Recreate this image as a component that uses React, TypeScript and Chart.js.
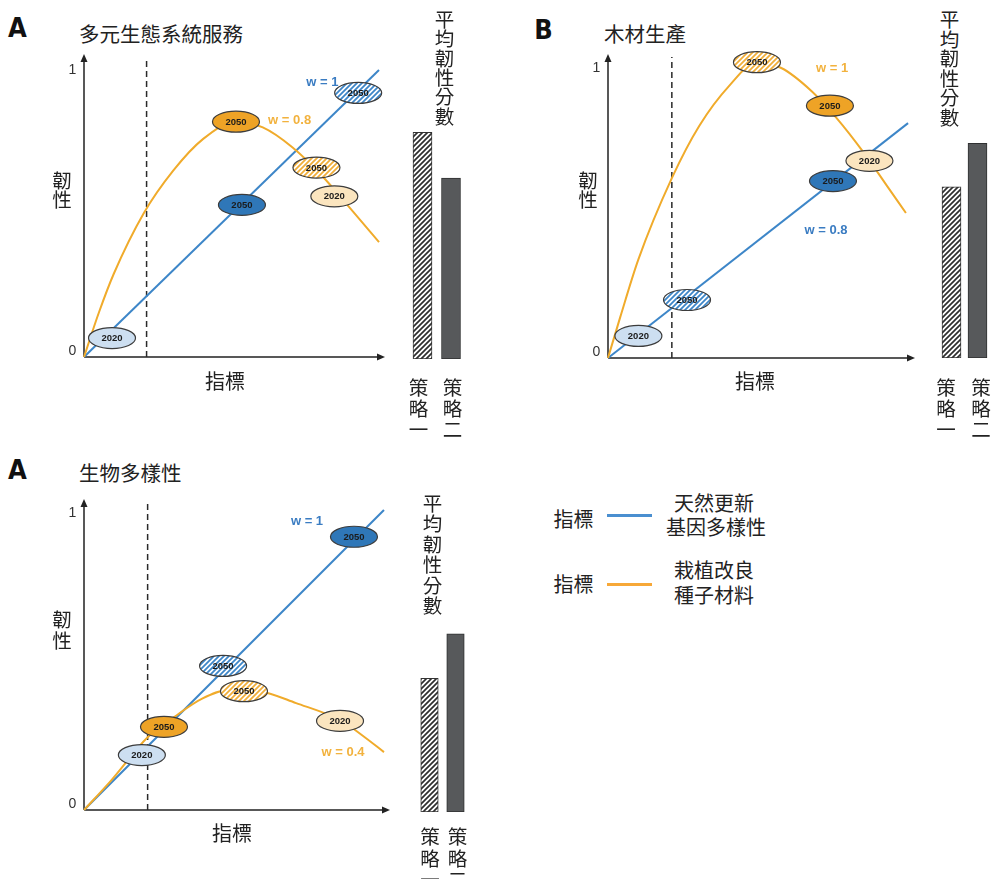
import React, { useEffect, useRef } from 'react';
import { Chart, registerables } from 'chart.js';
Chart.register(...registerables);

// ---------------- data ----------------
const DASH_X = 0.21;
const STRATEGIES = ['策略一', '策略二'];

// Panel A — 多元生態系統服務
const A_BLUE_X = [0, 0.99];
const A_BLUE_Y = [0, 1.0];
const A_ORANGE_X = [0, 0.05, 0.1, 0.2, 0.3, 0.4, 0.51, 0.6, 0.7, 0.8, 0.9, 0.99];
const A_ORANGE_Y = [0, 0.155, 0.29, 0.5, 0.65, 0.76, 0.82, 0.8, 0.73, 0.63, 0.51, 0.4];
const A_MARK_X = [0.094, 0.53, 0.92, 0.51, 0.78, 0.84];
const A_MARK_Y = [0.066, 0.53, 0.92, 0.82, 0.66, 0.56];
const A_MARK_YEAR = ['2020', '2050', '2050', '2050', '2050', '2020'];
const A_MARK_KIND = ['lightBlue', 'blue', 'blueHatch', 'orange', 'orangeHatch', 'lightOrange'];
const A_BARS = [0.79, 0.63];

// Panel B — 木材生產
const B_BLUE_X = [0, 0.987];
const B_BLUE_Y = [0, 0.81];
const B_ORANGE_X = [0, 0.04, 0.1, 0.21, 0.3, 0.4, 0.49, 0.57, 0.67, 0.75, 0.84, 0.92, 0.98];
const B_ORANGE_Y = [0, 0.14, 0.34, 0.62, 0.8, 0.94, 1.02, 1.0, 0.92, 0.83, 0.71, 0.59, 0.5];
const B_MARK_X = [0.1, 0.26, 0.74, 0.49, 0.73, 0.86];
const B_MARK_Y = [0.076, 0.2, 0.61, 1.02, 0.87, 0.68];
const B_MARK_YEAR = ['2020', '2050', '2050', '2050', '2050', '2020'];
const B_MARK_KIND = ['lightBlue', 'blueHatch', 'blue', 'orangeHatch', 'orange', 'lightOrange'];
const B_BARS = [0.59, 0.74];

// Panel C — 生物多樣性
const C_BLUE_X = [0, 0.99];
const C_BLUE_Y = [0, 1.01];
const C_ORANGE_X = [0, 0.09, 0.21, 0.3, 0.39, 0.48, 0.58, 0.7, 0.85, 0.92, 0.99];
const C_ORANGE_Y = [0, 0.1, 0.245, 0.315, 0.375, 0.405, 0.4, 0.36, 0.3, 0.25, 0.195];
const C_MARK_X = [0.191, 0.264, 0.459, 0.528, 0.845, 0.891];
const C_MARK_Y = [0.185, 0.28, 0.485, 0.4, 0.3, 0.92];
const C_MARK_YEAR = ['2020', '2050', '2050', '2050', '2020', '2050'];
const C_MARK_KIND = ['lightBlue', 'orange', 'blueHatch', 'orangeHatch', 'lightOrange', 'blue'];
const C_BARS = [0.45, 0.6];

// ---------------- styles ----------------
const BLUE = '#3d86c8';
const ORANGE = '#f0ab2b';
const BLUE_TEXT = '#3a7cc2';
const ORANGE_TEXT = '#f2b23e';
const CJK = '"Noto Sans CJK TC", "Noto Sans", sans-serif';

const MARK_STYLE: Record<string, { fill?: string; hatch?: string }> = {
  lightBlue: { fill: '#cddff1' },
  blue: { fill: '#2f77b8' },
  blueHatch: { hatch: '#3d86c8' },
  orange: { fill: '#eea326' },
  orangeHatch: { hatch: '#f0ae3a' },
  lightOrange: { fill: '#fbe5bf' },
};

function hatchPattern(color: string, size: number, lw: number) {
  const c = document.createElement('canvas');
  c.width = size;
  c.height = size;
  const g = c.getContext('2d')!;
  g.fillStyle = '#ffffff';
  g.fillRect(0, 0, size, size);
  g.strokeStyle = color;
  g.lineWidth = lw;
  g.beginPath();
  g.moveTo(0, size);
  g.lineTo(size, 0);
  g.moveTo(-1, 1);
  g.lineTo(1, -1);
  g.moveTo(size - 1, size + 1);
  g.lineTo(size + 1, size - 1);
  g.stroke();
  return g.createPattern(c, 'repeat')!;
}

const pts = (xs: number[], ys: number[]) => xs.map((x, i) => ({ x, y: ys[i] }));

type Box = { left: number; top: number; width: number; height: number };
type Area = { x0: number; x1: number; y0: number; y1: number; yTop: number };
type WLabel = { text: string; x: number; y: number; color: string };

function LinePanel(props: {
  box: Box;
  area: Area;
  blueX: number[];
  blueY: number[];
  orangeX: number[];
  orangeY: number[];
  markX: number[];
  markY: number[];
  markYear: string[];
  markKind: string[];
  wLabels: WLabel[];
}) {
  const ref = useRef<HTMLCanvasElement>(null);
  useEffect(() => {
    const { box, area } = props;
    const yMax = (area.y0 - area.yTop) / (area.y0 - area.y1);
    const patterns: Record<string, CanvasPattern> = {
      blueHatch: hatchPattern('#3d86c8', 5, 1.8),
      orangeHatch: hatchPattern('#f0ae3a', 5, 1.8),
    };
    const decor = {
      id: 'decor',
      beforeDatasetsDraw(chart: any) {
        const { ctx, chartArea, scales } = chart;
        const ox = scales.x.getPixelForValue(0);
        const oy = scales.y.getPixelForValue(0);
        ctx.save();
        ctx.strokeStyle = '#222';
        ctx.fillStyle = '#222';
        ctx.lineWidth = 1.5;
        ctx.beginPath();
        ctx.moveTo(ox, oy);
        ctx.lineTo(ox, chartArea.top + 2);
        ctx.moveTo(ox, oy);
        ctx.lineTo(chartArea.right - 2, oy);
        ctx.stroke();
        ctx.beginPath();
        ctx.moveTo(ox, chartArea.top - 3);
        ctx.lineTo(ox - 3.5, chartArea.top + 5);
        ctx.lineTo(ox + 3.5, chartArea.top + 5);
        ctx.closePath();
        ctx.fill();
        ctx.beginPath();
        ctx.moveTo(chartArea.right + 3, oy);
        ctx.lineTo(chartArea.right - 5, oy - 3.5);
        ctx.lineTo(chartArea.right - 5, oy + 3.5);
        ctx.closePath();
        ctx.fill();
        ctx.fillStyle = '#333';
        ctx.font = '14px "Liberation Sans", sans-serif';
        ctx.textAlign = 'center';
        ctx.textBaseline = 'middle';
        ctx.fillText('1', ox - 11.5, scales.y.getPixelForValue(1));
        ctx.fillText('0', ox - 11.5, oy - 6);
        ctx.restore();
      },
      afterDatasetsDraw(chart: any) {
        const { ctx, scales } = chart;
        ctx.save();
        props.markX.forEach((mx, i) => {
          const px = scales.x.getPixelForValue(mx);
          const py = scales.y.getPixelForValue(props.markY[i]);
          const st = MARK_STYLE[props.markKind[i]];
          ctx.beginPath();
          ctx.ellipse(px, py, 23.5, 10.5, 0, 0, Math.PI * 2);
          ctx.fillStyle = st.hatch ? patterns[props.markKind[i]] : st.fill;
          ctx.fill();
          ctx.lineWidth = 1.2;
          ctx.strokeStyle = '#3c3c3c';
          ctx.stroke();
          ctx.fillStyle = '#1b1b1b';
          ctx.font = 'bold 9.5px "Liberation Sans", sans-serif';
          ctx.textAlign = 'center';
          ctx.textBaseline = 'middle';
          ctx.fillText(props.markYear[i], px, py + 0.5);
        });
        props.wLabels.forEach((l) => {
          ctx.fillStyle = l.color;
          ctx.font = 'bold 13px "Liberation Sans", sans-serif';
          ctx.textAlign = 'center';
          ctx.textBaseline = 'middle';
          ctx.fillText(l.text, scales.x.getPixelForValue(l.x), scales.y.getPixelForValue(l.y));
        });
        ctx.restore();
      },
    };
    const chart = new Chart(ref.current!, {
      type: 'line',
      data: {
        datasets: [
          {
            data: pts(props.orangeX, props.orangeY),
            borderColor: ORANGE,
            borderWidth: 2,
            pointRadius: 0,
            cubicInterpolationMode: 'monotone',
            clip: false,
          } as any,
          {
            data: pts(props.blueX, props.blueY),
            borderColor: BLUE,
            borderWidth: 2,
            pointRadius: 0,
            clip: false,
          },
          {
            data: [
              { x: DASH_X, y: 0 },
              { x: DASH_X, y: yMax },
            ],
            borderColor: '#2a2a2a',
            borderWidth: 1.5,
            borderDash: [6, 4],
            pointRadius: 0,
            clip: false,
          },
        ],
      },
      options: {
        animation: false,
        responsive: false,
        maintainAspectRatio: false,
        events: [],
        layout: {
          padding: {
            left: area.x0 - box.left,
            right: box.left + box.width - area.x1,
            top: area.yTop - box.top,
            bottom: box.top + box.height - area.y0,
          },
        },
        scales: {
          x: { type: 'linear', min: 0, max: 1, display: false },
          y: { type: 'linear', min: 0, max: yMax, display: false },
        },
        plugins: { legend: { display: false }, tooltip: { enabled: false } },
      },
      plugins: [decor],
    });
    return () => chart.destroy();
  }, []);
  const { box } = props;
  return (
    <canvas
      ref={ref}
      width={box.width}
      height={box.height}
      style={{ position: 'absolute', left: box.left, top: box.top, width: box.width, height: box.height }}
    />
  );
}

function BarPanel(props: { box: Box; left: number; right: number; y0: number; unit: number; values: number[]; thickness: number }) {
  const ref = useRef<HTMLCanvasElement>(null);
  useEffect(() => {
    const { box } = props;
    const pattern = hatchPattern('#2e2e2e', 5, 1.7);
    const chart = new Chart(ref.current!, {
      type: 'bar',
      data: {
        labels: STRATEGIES,
        datasets: [
          {
            data: props.values,
            backgroundColor: [pattern, '#57595b'] as any,
            borderColor: ['#333333', '#2f3031'],
            borderWidth: 1,
            borderSkipped: false,
            barThickness: props.thickness,
          },
        ],
      },
      options: {
        animation: false,
        responsive: false,
        maintainAspectRatio: false,
        events: [],
        layout: {
          padding: {
            left: props.left - box.left,
            right: box.left + box.width - props.right,
            top: props.y0 - props.unit - box.top,
            bottom: box.top + box.height - props.y0,
          },
        },
        scales: {
          x: { display: false },
          y: { display: false, min: 0, max: 1 },
        },
        plugins: { legend: { display: false }, tooltip: { enabled: false } },
      },
    });
    return () => chart.destroy();
  }, []);
  const { box } = props;
  return (
    <canvas
      ref={ref}
      width={box.width}
      height={box.height}
      style={{ position: 'absolute', left: box.left, top: box.top, width: box.width, height: box.height }}
    />
  );
}

function Txt(props: { x: number; y: number; size: number; children: any; font?: string; weight?: any; color?: string }) {
  return (
    <div
      style={{
        position: 'absolute',
        left: props.x,
        top: props.y,
        transform: 'translate(-50%, -50%)',
        fontSize: props.size,
        lineHeight: 1,
        whiteSpace: 'nowrap',
        fontFamily: props.font || CJK,
        fontWeight: props.weight || 400,
        color: props.color || '#222',
      }}
    >
      {props.children}
    </div>
  );
}

function VText(props: { x: number; y: number; step: number; size: number; text: string }) {
  return (
    <>
      {Array.from(props.text).map((ch, i) => (
        <Txt key={i} x={props.x} y={props.y + i * props.step} size={props.size}>
          {ch}
        </Txt>
      ))}
    </>
  );
}

const LETTER = '"Liberation Sans Narrow", "DejaVu Sans Condensed", "Liberation Sans", sans-serif';

export default function App() {
  return (
    <div
      style={{
        position: 'absolute',
        left: 0,
        top: 0,
        width: 991,
        height: 879,
        overflow: 'hidden',
        background: '#fff',
        fontFamily: CJK,
      }}
    >
      {/* Panel A top */}
      <Txt x={17.5} y={27} size={27} font={LETTER} weight={700} color="#111">A</Txt>
      <div style={{ position: 'absolute', left: 79, top: 33, transform: 'translateY(-50%)', fontSize: 20.5, lineHeight: 1, color: '#222', whiteSpace: 'nowrap' }}>多元生態系統服務</div>
      <LinePanel
        box={{ left: 40, top: 40, width: 370, height: 340 }}
        area={{ x0: 84, x1: 382, y0: 357, y1: 70, yTop: 57 }}
        blueX={A_BLUE_X}
        blueY={A_BLUE_Y}
        orangeX={A_ORANGE_X}
        orangeY={A_ORANGE_Y}
        markX={A_MARK_X}
        markY={A_MARK_Y}
        markYear={A_MARK_YEAR}
        markKind={A_MARK_KIND}
        wLabels={[
          { text: 'w = 1', x: 0.8, y: 0.958, color: BLUE_TEXT },
          { text: 'w = 0.8', x: 0.69, y: 0.826, color: ORANGE_TEXT },
        ]}
      />
      <VText x={62} y={179.5} step={19.5} size={19.5} text="韌性" />
      <Txt x={225} y={381} size={20}>指標</Txt>
      <BarPanel box={{ left: 400, top: 60, width: 75, height: 310 }} left={408.25} right={465.25} y0={359} unit={287} values={A_BARS} thickness={19} />
      <VText x={444.5} y={19} step={19.3} size={19.5} text="平均韌性分數" />
      <VText x={418.5} y={387} step={21} size={19.5} text="策略一" />
      <VText x={452.5} y={387} step={21} size={19.5} text="策略二" />

      {/* Panel B */}
      <Txt x={543.5} y={28.5} size={27} font={LETTER} weight={700} color="#111">B</Txt>
      <div style={{ position: 'absolute', left: 604, top: 33, transform: 'translateY(-50%)', fontSize: 20.5, lineHeight: 1, color: '#222', whiteSpace: 'nowrap' }}>木材生產</div>
      <LinePanel
        box={{ left: 570, top: 40, width: 360, height: 340 }}
        area={{ x0: 608, x1: 912, y0: 358, y1: 68, yTop: 57 }}
        blueX={B_BLUE_X}
        blueY={B_BLUE_Y}
        orangeX={B_ORANGE_X}
        orangeY={B_ORANGE_Y}
        markX={B_MARK_X}
        markY={B_MARK_Y}
        markYear={B_MARK_YEAR}
        markKind={B_MARK_KIND}
        wLabels={[
          { text: 'w = 1', x: 0.737, y: 1.0, color: ORANGE_TEXT },
          { text: 'w = 0.8', x: 0.717, y: 0.441, color: BLUE_TEXT },
        ]}
      />
      <VText x={588} y={179.5} step={19.5} size={19.5} text="韌性" />
      <Txt x={755} y={381} size={20}>指標</Txt>
      <BarPanel box={{ left: 930, top: 60, width: 61, height: 310 }} left={938.5} right={990.5} y0={358} unit={290} values={B_BARS} thickness={19} />
      <VText x={949.5} y={19} step={19.5} size={19.5} text="平均韌性分數" />
      <VText x={946} y={387} step={21} size={19.5} text="策略一" />
      <VText x={981} y={387} step={21} size={19.5} text="策略二" />

      {/* Panel C */}
      <Txt x={17.5} y={468.5} size={27} font={LETTER} weight={700} color="#111">A</Txt>
      <div style={{ position: 'absolute', left: 79, top: 471.5, transform: 'translateY(-50%)', fontSize: 20.5, lineHeight: 1, color: '#222', whiteSpace: 'nowrap' }}>生物多樣性</div>
      <LinePanel
        box={{ left: 40, top: 480, width: 370, height: 350 }}
        area={{ x0: 84, x1: 387, y0: 810, y1: 513, yTop: 502 }}
        blueX={C_BLUE_X}
        blueY={C_BLUE_Y}
        orangeX={C_ORANGE_X}
        orangeY={C_ORANGE_Y}
        markX={C_MARK_X}
        markY={C_MARK_Y}
        markYear={C_MARK_YEAR}
        markKind={C_MARK_KIND}
        wLabels={[
          { text: 'w = 1', x: 0.736, y: 0.97, color: BLUE_TEXT },
          { text: 'w = 0.4', x: 0.855, y: 0.195, color: ORANGE_TEXT },
        ]}
      />
      <VText x={62} y={619} step={20.5} size={19.5} text="韌性" />
      <Txt x={232} y={833} size={20}>指標</Txt>
      <BarPanel box={{ left: 405, top: 500, width: 75, height: 325 }} left={416.5} right={468.5} y0={812} unit={297} values={C_BARS} thickness={17.5} />
      <VText x={432.5} y={503} step={20.4} size={19.5} text="平均韌性分數" />
      <VText x={430} y={836} step={21.5} size={19.5} text="策略一" />
      <VText x={457.5} y={836} step={21.5} size={19.5} text="策略二" />

      {/* Legend */}
      <Txt x={573.5} y={518.5} size={20}>指標</Txt>
      <div style={{ position: 'absolute', left: 607, top: 514, width: 45, height: 2.5, background: '#4a8fd0' }} />
      <Txt x={714} y={502.5} size={20}>天然更新</Txt>
      <Txt x={716} y={527} size={20}>基因多樣性</Txt>
      <Txt x={573.5} y={583.5} size={20}>指標</Txt>
      <div style={{ position: 'absolute', left: 607, top: 583, width: 45, height: 2.5, background: '#f7a838' }} />
      <Txt x={714} y={570} size={20}>栽植改良</Txt>
      <Txt x={714} y={594.5} size={20}>種子材料</Txt>
    </div>
  );
}
